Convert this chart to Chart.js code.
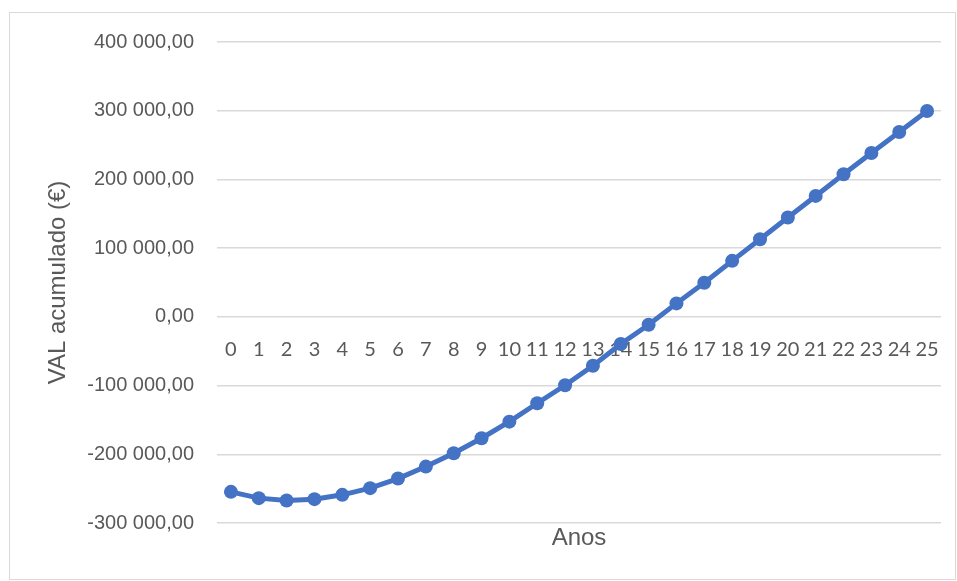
<!DOCTYPE html>
<html>
<head>
<meta charset="utf-8">
<script src="https://cdn.jsdelivr.net/npm/chart.js@4"></script>
<style>
  html, body { margin: 0; padding: 0; background: #fff; }
  #wrap { position: relative; width: 957px; height: 581px; }
  #frame { position: absolute; left: 9px; top: 12px; width: 945px; height: 566px;
           border: 1px solid #d9d9d9; pointer-events: none; }
</style>
</head>
<body>
<div id="wrap">
  <canvas id="valChart" width="957" height="581"></canvas>
  <div id="frame"></div>
</div>
<script>
// anos do projeto
const anos = ['0','1','2','3','4','5','6','7','8','9','10','11','12','13','14','15','16','17','18','19','20','21','22','23','24','25'];

// VAL acumulado (€)
const valAcumulado = [-254700, -263800, -267300, -265300, -259000, -249300, -235300, -217900, -198400, -176600,
                      -152500, -125700, -99600, -71100, -39500, -11500, 19600, 49600, 81500, 113000,
                      144600, 176000, 207600, 238500, 269000, 299600];

const yMin = -300000;
const yMax = 400000;
const yStep = 100000;

const textColor = '#595959';
const arial = '"Liberation Sans", Arial, sans-serif';

// formato "400 000,00"
function formatEuro(v) {
    const neg = v < 0;
    const s = Math.abs(v).toFixed(0).replace(/\B(?=(\d{3})+(?!\d))/g, ' ');
    return (neg ? '-' : '') + s + ',00';
}

const ctx = document.getElementById('valChart').getContext('2d');
const valChart = new Chart(ctx, {
    type: 'line',
    data: {
        labels: anos,
        datasets: [{
            data: valAcumulado,
            borderColor: '#4472C4',
            backgroundColor: '#4472C4',
            borderWidth: 5,
            pointRadius: 7,
            pointBorderWidth: 0,
            fill: false,
            tension: 0
        }]
    },
    options: {
        responsive: false,
        animation: false,
        layout: { padding: { left: 0, right: 16, top: 42, bottom: 28 } },
        plugins: { legend: { display: false }, tooltip: { enabled: false } },
        scales: {
            x: {
                type: 'category',
                position: { y: 0 },   // etiquetas junto ao zero
                offset: true,
                grid: { display: false },
                border: { display: false },
                ticks: { color: textColor, font: { family: 'Lato', size: 20 }, padding: 13, maxRotation: 0, autoSkip: false }
            },
            xTitle: {
                type: 'category',
                position: 'bottom',
                offset: true,
                grid: { display: false },
                border: { display: false },
                ticks: { display: false },
                title: { display: true, text: 'Anos', color: textColor, font: { family: arial, size: 24 }, padding: { top: 0, bottom: 0 } },
                afterFit: (scale) => { scale.height = 30; }
            },
            y: {
                min: yMin,
                max: yMax,
                ticks: {
                    stepSize: yStep,
                    color: textColor,
                    font: { family: arial, size: 20 },
                    padding: 23,
                    callback: (v) => formatEuro(v)
                },
                grid: { color: '#d9d9d9', lineWidth: 1.5, drawTicks: false },
                border: { display: false },
                title: { display: true, text: 'VAL acumulado (€)', color: textColor, font: { family: arial, size: 24 }, padding: { top: 44, bottom: 0 } },
                afterFit: (scale) => { scale.width = 217; }
            }
        }
    }
});
</script>
</body>
</html>
